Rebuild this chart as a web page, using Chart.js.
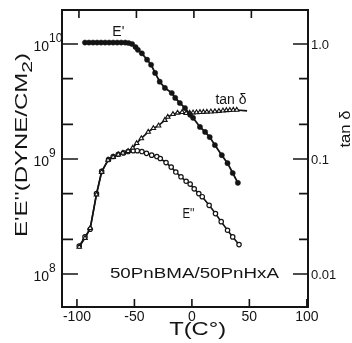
<!DOCTYPE html>
<html><head><meta charset="utf-8">
<style>html,body{margin:0;padding:0;background:#fff;overflow:hidden}canvas{display:block}</style>
<script src="https://cdn.jsdelivr.net/npm/chart.js@4.4.1/dist/chart.umd.min.js"></script>
</head><body>
<canvas id="c" width="352" height="343"></canvas>
<script>
// ---- data ----
const ePrimeT = [-93, -89.5, -86, -82.5, -79, -75.5, -72, -68.5, -65, -61.5, -58, -55, -52, -49, -47, -43.5, -39, -35.5, -32, -28, -23.5, -17.5, -14.5, -10.5, -6, -1.5, 1, 7, 11.5, 15.5, 20, 26, 31, 35.5, 40];
const ePrimeVal = [1.03e10, 1.03e10, 1.03e10, 1.03e10, 1.03e10, 1.03e10, 1.03e10, 1.03e10, 1.03e10, 1.03e10, 1.03e10, 1.02e10, 1.0e10, 9.4e9, 8.9e9, 8.3e9, 7.3e9, 6.6e9, 5.6e9, 4.7e9, 4.15e9, 3.75e9, 3.4e9, 3.07e9, 2.77e9, 2.42e9, 2.28e9, 1.9e9, 1.72e9, 1.55e9, 1.32e9, 1.08e9, 9.2e8, 7.55e8, 6.2e8];

const eDoubleT = [-98, -93, -88.5, -83, -78.5, -72.5, -68.5, -64, -59.5, -55.5, -51, -47.5, -43.5, -39.5, -35, -30.5, -27.5, -22.5, -18, -14, -9.5, -5, -1.5, 2, 6, 9, 15, 20.5, 25.5, 31, 35.5, 41];
const eDoubleVal = [1.75e8, 2.1e8, 2.45e8, 5.0e8, 7.8e8, 9.9e8, 1.05e9, 1.1e9, 1.13e9, 1.16e9, 1.18e9, 1.18e9, 1.16e9, 1.12e9, 1.08e9, 1.05e9, 1.01e9, 9.3e8, 8.5e8, 7.7e8, 7.0e8, 6.4e8, 6.05e8, 5.5e8, 5.0e8, 4.7e8, 3.95e8, 3.35e8, 2.85e8, 2.4e8, 2.1e8, 1.8e8];

const tanT = [-98, -93, -88.5, -83, -78.5, -73, -68.5, -64, -60, -55.5, -51.5, -48, -44, -38, -33.5, -29, -23.5, -21, -16.5, -12.5, -8.5, -5, -2, 1, 4, 7, 10, 13, 16.5, 20, 23.5, 27, 30, 33, 36, 39, 48];
const tanVal = [0.0172, 0.0205, 0.025, 0.049, 0.077, 0.098, 0.104, 0.109, 0.113, 0.117, 0.125, 0.137, 0.151, 0.172, 0.185, 0.195, 0.218, 0.232, 0.245, 0.252, 0.255, 0.250, 0.252, 0.253, 0.254, 0.255, 0.256, 0.257, 0.258, 0.259, 0.261, 0.263, 0.265, 0.266, 0.267, 0.267, 0.262];

const xTickValues = [-100, -50, 0, 50, 100];
const xTickLabels = ['-100', '-50', '0', '50', '100'];
const xTopTickValues = [-100, -50, 0, 50];
const leftMajorValues = [1e8, 1e9, 1e10];
const leftExponents = ['8', '9', '10'];
const leftMinorValues = [2e8, 5e8, 2e9, 5e9];
const rightMajorValues = [0.01, 0.1, 1];
const rightTickLabels = ['0.01', '0.1', '1.0'];
const rightMinorValues = [0.02, 0.05, 0.2, 0.5];

const xTitle = 'T(C°)';
const leftTitleMain = "E'E''(DYNE/CM";
const leftTitleSup = '2';
const rightTitle = 'tan δ';
const sampleLabel = '50PnBMA/50PnHxA';
const curveLabels = [
  {text: "E'", t: -64, v: 1.27e10, w: 12},
  {text: 'tan δ', t: 34, v: 3.26e9, w: 31},
  {text: "E''", t: -3, v: 3.3e8, w: 12}
];

// ---- axis ranges ----
const X_MIN = -113, X_MAX = 101;
const Y_MIN = 5.16e7, Y_MAX = 1.976e10;
const TAN_FACTOR = 1e10;

const FONT = '"Liberation Sans", Arial, sans-serif';
const INK = '#141414';

function drawRuns(ctx, runs, cx, cy, targetW, rot) {
  ctx.save();
  ctx.translate(cx, cy);
  if (rot) ctx.rotate(rot);
  let total = 0;
  const ws = runs.map(r => { ctx.font = r.size + 'px ' + FONT; const w = ctx.measureText(r.t).width; total += w; return w; });
  const sx = targetW ? targetW / total : 1;
  ctx.scale(sx, 1);
  let x = -total / 2;
  ctx.textAlign = 'left';
  ctx.textBaseline = 'middle';
  runs.forEach((r, i) => { ctx.font = r.size + 'px ' + FONT; ctx.fillText(r.t, x, r.dy || 0); x += ws[i]; });
  ctx.restore();
}

const framePlugin = {
  id: 'frame',
  afterDraw(chart) {
    const ctx = chart.ctx;
    const a = chart.chartArea;
    const xs = chart.scales.x, ys = chart.scales.y, y2 = chart.scales.y2;
    ctx.save();
    ctx.strokeStyle = INK;
    ctx.fillStyle = INK;
    ctx.lineWidth = 2;
    ctx.strokeRect(a.left, a.top, a.right - a.left, a.bottom - a.top);
    ctx.lineWidth = 1.6;
    ctx.beginPath();
    xTickValues.forEach(v => { const p = xs.getPixelForValue(v); ctx.moveTo(p, a.bottom); ctx.lineTo(p, a.bottom - 8); });
    xTopTickValues.forEach(v => { const p = xs.getPixelForValue(v) + 2; ctx.moveTo(p, a.top); ctx.lineTo(p, a.top + 8); });
    leftMajorValues.forEach(v => { const p = ys.getPixelForValue(v); ctx.moveTo(a.left, p); ctx.lineTo(a.left + 16, p); });
    leftMinorValues.forEach(v => { const p = ys.getPixelForValue(v); ctx.moveTo(a.left, p); ctx.lineTo(a.left + 11, p); });
    rightMajorValues.forEach(v => { const p = y2.getPixelForValue(v); ctx.moveTo(a.right, p); ctx.lineTo(a.right - 15, p); });
    rightMinorValues.forEach(v => { const p = y2.getPixelForValue(v); ctx.moveTo(a.right, p); ctx.lineTo(a.right - 9, p); });
    ctx.stroke();

    // x tick labels
    xTickValues.forEach((v, i) => {
      drawRuns(ctx, [{t: xTickLabels[i], size: 14}], xs.getPixelForValue(v), a.bottom + 10, null, 0);
    });
    // left tick labels 10^n
    leftMajorValues.forEach((v, i) => {
      const p = ys.getPixelForValue(v);
      ctx.textBaseline = 'middle';
      ctx.font = '14px ' + FONT;
      ctx.textAlign = 'right';
      ctx.fillText('10', a.left - 13, p + 3);
      ctx.font = '12px ' + FONT;
      ctx.textAlign = 'left';
      ctx.fillText(leftExponents[i], a.left - 13, p - 5);
    });
    // right tick labels
    rightMajorValues.forEach((v, i) => {
      const p = y2.getPixelForValue(v);
      ctx.font = '13px ' + FONT;
      ctx.textAlign = 'left';
      ctx.textBaseline = 'middle';
      ctx.fillText(rightTickLabels[i], a.right + 3, p + 1);
    });
    // titles
    drawRuns(ctx, [{t: xTitle, size: 18}], xs.getPixelForValue(5), a.bottom + 23, 57, 0);
    drawRuns(ctx, [{t: leftTitleMain, size: 17}, {t: leftTitleSup, size: 15, dy: 6}, {t: ')', size: 17}], 22, 145, 184, -Math.PI / 2);
    drawRuns(ctx, [{t: rightTitle, size: 15}], 346, 129, 37, -Math.PI / 2);
    // curve labels
    curveLabels.forEach(l => {
      drawRuns(ctx, [{t: l.text, size: 14}], xs.getPixelForValue(l.t), ys.getPixelForValue(l.v), l.w, 0);
    });
    drawRuns(ctx, [{t: sampleLabel, size: 15}], xs.getPixelForValue(2.2), ys.getPixelForValue(1e8), 169, 0);
    ctx.restore();
  }
};

const toXY = (ts, vs) => ts.map((t, i) => ({x: t, y: vs[i]}));

new Chart(document.getElementById('c'), {
  type: 'line',
  data: {
    datasets: [
      {
        label: "E'", data: toXY(ePrimeT, ePrimeVal), yAxisID: 'y',
        borderColor: INK, borderWidth: 1.8, pointRadius: 2.6, pointBackgroundColor: INK,
        pointBorderColor: INK, pointBorderWidth: 0.5, tension: 0
      },
      {
        label: 'tan δ', data: toXY(tanT, tanVal), yAxisID: 'y2',
        borderColor: INK, borderWidth: 1.6, pointStyle: 'triangle',
        pointRadius: tanT.map((t, i) => i === tanT.length - 1 ? 0 : 2.6),
        pointBackgroundColor: '#fff', pointBorderColor: INK, pointBorderWidth: 1.1, tension: 0
      },
      {
        label: "E''", data: toXY(eDoubleT, eDoubleVal), yAxisID: 'y',
        borderColor: INK, borderWidth: 1.6, pointRadius: 2.2, pointBackgroundColor: '#fff',
        pointBorderColor: INK, pointBorderWidth: 1.2, tension: 0
      }
    ]
  },
  options: {
    responsive: false,
    animation: false,
    devicePixelRatio: 1,
    layout: {padding: {left: 62, right: 44, top: 10, bottom: 36}},
    plugins: {legend: {display: false}, tooltip: {enabled: false}},
    scales: {
      x: {type: 'linear', min: X_MIN, max: X_MAX, bounds: 'data', display: false},
      y: {type: 'logarithmic', min: Y_MIN, max: Y_MAX, bounds: 'data', display: false},
      y2: {type: 'logarithmic', position: 'right', min: Y_MIN / TAN_FACTOR, max: Y_MAX / TAN_FACTOR, bounds: 'data', display: false}
    }
  },
  plugins: [framePlugin]
});
</script>
</body></html>
